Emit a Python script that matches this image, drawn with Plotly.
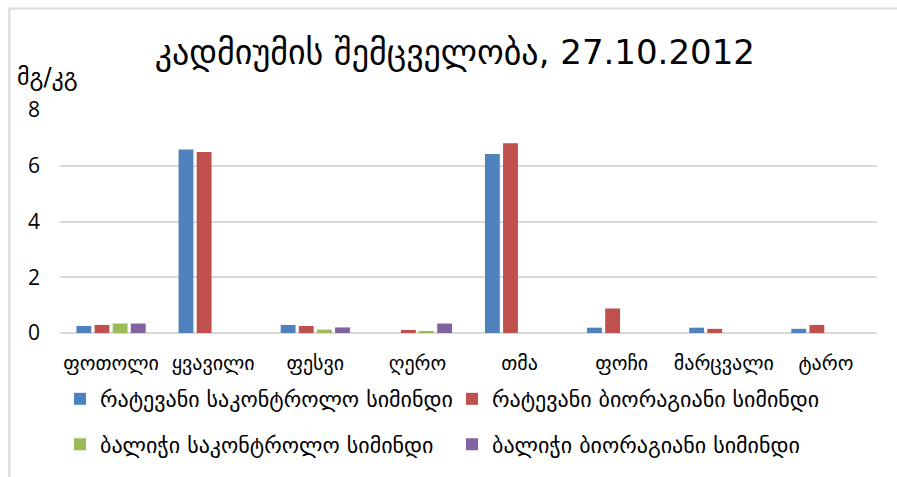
import plotly.graph_objects as go

categories = ["ფოთოლი", "ყვავილი", "ფესვი", "ღერო", "თმა", "ფოჩი", "მარცვალი", "ტარო"]
series_names = [
    "რატევანი საკონტროლო სიმინდი",
    "რატევანი ბიორაგიანი სიმინდი",
    "ბალიჭი საკონტროლო სიმინდი",
    "ბალიჭი ბიორაგიანი სიმინდი",
]
ratevani_control = [0.25, 6.58, 0.29, 0.0, 6.42, 0.19, 0.19, 0.15]
ratevani_bio = [0.29, 6.49, 0.25, 0.11, 6.81, 0.88, 0.15, 0.29]
balichi_control = [0.34, 0.0, 0.12, 0.06, 0.0, 0.0, 0.0, 0.0]
balichi_bio = [0.34, 0.0, 0.20, 0.34, 0.0, 0.0, 0.0, 0.0]
y_ticks = [0, 2, 4, 6, 8]

colors = ["#4F81BD", "#C0504D", "#9BBB59", "#8064A2"]
values = [ratevani_control, ratevani_bio, balichi_control, balichi_bio]
legends = ["legend", "legend", "legend2", "legend2"]

FONT = "DejaVu Sans"

fig = go.Figure()
for name, vals, col, lg in zip(series_names, values, colors, legends):
    fig.add_trace(go.Bar(
        x=categories, y=vals, name=name, legend=lg,
        marker=dict(color=col, line=dict(width=0)),
    ))

legend_common = dict(orientation="h", x=0.0, xanchor="left", yanchor="middle",
                     entrywidth=347, entrywidthmode="pixels",
                     font=dict(size=22, family=FONT, color="#000000"),
                     bgcolor="rgba(0,0,0,0)")

fig.update_layout(
    width=897, height=477,
    margin=dict(l=60, r=20, t=110, b=142),
    paper_bgcolor="white", plot_bgcolor="white",
    barmode="group", bargap=0.29, bargroupgap=0.18,
    font=dict(family=FONT, color="#000000"),
    title=dict(text="კადმიუმის შემცველობა, 27.10.2012",
               x=0.507, xanchor="center", y=0.89, yanchor="middle",
               font=dict(size=34, color="#000000", family=FONT)),
    xaxis=dict(showgrid=False, showline=False, ticks="", ticklabelstandoff=16,
               tickfont=dict(size=20, color="#000000", family=FONT)),
    yaxis=dict(range=[0, 8], tickvals=y_ticks, showgrid=True,
               gridcolor="#d9d9d9", gridwidth=2, zeroline=True,
               zerolinecolor="#d9d9d9", zerolinewidth=2,
               showline=False, ticks="", ticklabelstandoff=19,
               tickfont=dict(size=21, color="#000000", family="Open Sans")),
    legend=dict(y=-0.296, **legend_common),
    legend2=dict(y=-0.50, **legend_common),
    showlegend=True,
)

fig.add_annotation(text="მგ/კგ", xref="paper", yref="paper",
                   x=-0.0545, y=1.15, xanchor="left", yanchor="middle",
                   showarrow=False, font=dict(size=24, family=FONT, color="#000000"))

# outer frame (chart border)
fig.add_shape(type="rect", xref="paper", yref="paper",
              x0=-0.062, x1=1.2, y0=-1.0, y1=1.455,
              line=dict(color="#d9d9d9", width=2), layer="below")

fig.write_html("out.html", config={"displayModeBar": False},
               post_script="document.body.style.margin='0';")
